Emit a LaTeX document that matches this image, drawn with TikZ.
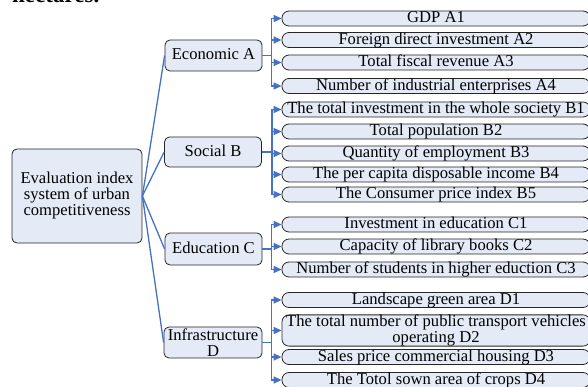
\documentclass[tikz,border=0pt]{standalone}
\usepackage{fontspec}
\setmainfont{Liberation Serif}
\usetikzlibrary{arrows.meta}
\definecolor{boxfill}{RGB}{228,235,247}
\definecolor{conncol}{RGB}{68,114,196}
\begin{document}
\begin{tikzpicture}[x=1pt,y=-1pt,
  every node/.style={font=\fontsize{16.6}{16}\selectfont},
  catbox/.style={draw=black!85, fill=boxfill, rounded corners=5pt, line width=0.8pt,
    minimum width=97pt, minimum height=31pt, inner sep=0pt, align=center},
  leafbox/.style={draw=black!85, fill=boxfill, rounded corners=7pt, line width=0.8pt,
    minimum width=308pt, minimum height=15pt, inner sep=0pt, align=center},
  oneline/.style={text height=11.5pt, text depth=3pt},
  conn/.style={draw=conncol, line width=1.3pt},
  tconn/.style={conn, -{Triangle[length=8pt,width=7pt]}}
]
\useasboundingbox (0,0) rectangle (588,387);
\clip (0,0) rectangle (588,387);
\node[anchor=base west, inner sep=0pt, font=\fontsize{23}{23}\selectfont\bfseries] (frag) at (12,3) {hectares.};

\node[catbox, minimum width=130pt, minimum height=94pt] (root) at (77,196) {Evaluation index\\system of urban\\competitiveness};

\node[catbox, oneline] (A) at (213.5,55.5) {Economic A};
\node[catbox, oneline, minimum height=30pt] (B) at (213,152) {Social B};
\node[catbox, oneline, minimum height=32pt] (C) at (213.5,249) {Education C};
\node[catbox, minimum width=98pt] (D) at (213,342.5) {Infrastructure\\D};

\node[leafbox, oneline] (A1) at (436,18.5) {GDP A1};
\node[leafbox, oneline] (A2) at (436,40) {Foreign direct investment A2};
\node[leafbox, oneline] (A3) at (436,62.5) {Total fiscal revenue A3};
\node[leafbox, oneline] (A4) at (436,86) {Number of industrial enterprises A4};

\node[leafbox, oneline] (B1) at (436,109.5) {The total investment in the whole society B1};
\node[leafbox, oneline] (B2) at (436,131.5) {Total population B2};
\node[leafbox, oneline] (B3) at (436,153.5) {Quantity of employment B3};
\node[leafbox, oneline] (B4) at (436,174.5) {The per capita disposable income B4};
\node[leafbox, oneline] (B5) at (436,194.5) {The Consumer price index B5};

\node[leafbox, oneline] (C1) at (436,224.5) {Investment in education C1};
\node[leafbox, oneline] (C2) at (436,246.5) {Capacity of library books C2};
\node[leafbox, oneline] (C3) at (436,269.5) {Number of students in higher eduction C3};

\node[leafbox, oneline] (D1) at (436,300) {Landscape green area D1};
\node[leafbox, minimum height=31pt] (D2) at (436,330.5) {The total number of public transport vehicles\\operating D2};
\node[leafbox, oneline] (D3) at (436,357) {Sales price commercial housing D3};
\node[leafbox, oneline] (D4) at (436,380) {The Totol sown area of crops D4};

\foreach \c in {A,B,C,D} \draw[conn] (root.east) -- (\c.west);

\foreach \l in {A1,A2,A3,A4} \draw[tconn] (A.east) -- ++(9,0) |- (\l.west);
\foreach \l in {B1,B2,B3,B4,B5} \draw[tconn] (B.east) -- ++(10,0) |- (\l.west);
\foreach \l in {C1,C2,C3} \draw[tconn] (C.east) -- ++(9,0) |- (\l.west);
\foreach \l in {D1,D2,D3,D4} \draw[tconn] (D.east) -- ++(9,0) |- (\l.west);
\end{tikzpicture}
\end{document}
